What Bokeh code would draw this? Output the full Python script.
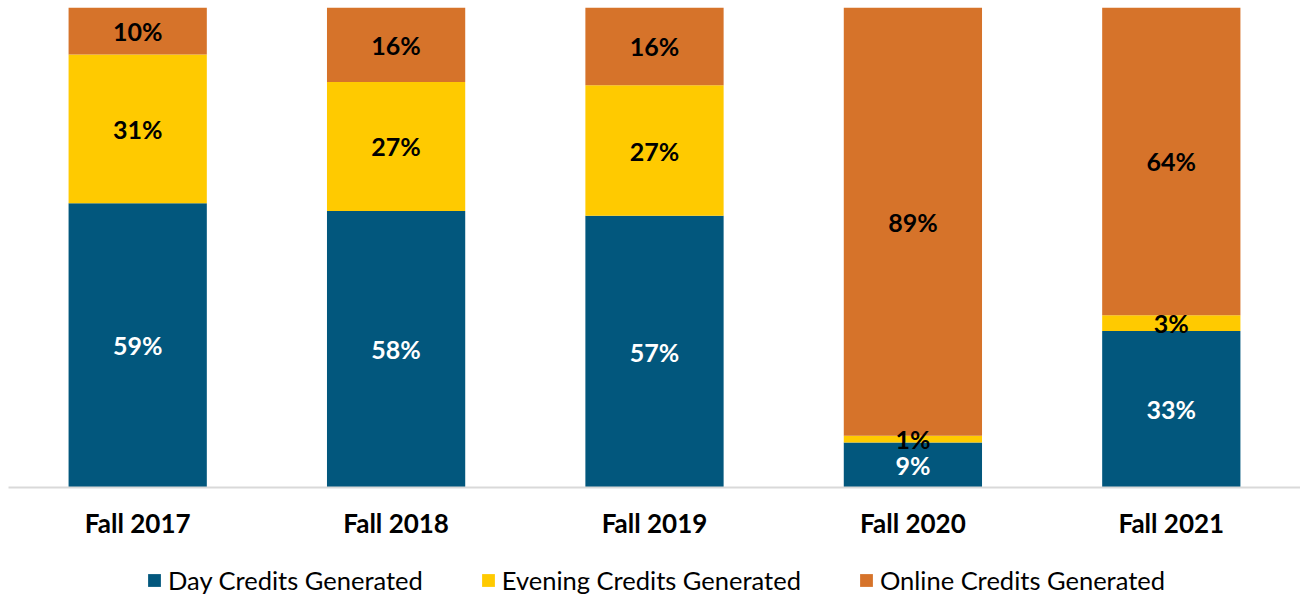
from bokeh.plotting import figure
from bokeh.layouts import column
from bokeh.models import FactorRange, Range1d, Legend, LegendItem, ColumnDataSource
from bokeh.core.properties import value
from bokeh.embed import file_html
from bokeh.resources import INLINE

categories = ["Fall 2017", "Fall 2018", "Fall 2019", "Fall 2020", "Fall 2021"]
day = [59.2, 57.6, 56.6, 9.4, 32.6]
evening = [31.0, 26.9, 27.2, 1.4, 3.3]
online = [9.8, 15.5, 16.2, 89.2, 64.1]
series_names = ["Day Credits Generated", "Evening Credits Generated", "Online Credits Generated"]
colors = ["#02577D", "#FFCA00", "#D6732A"]
label_colors = ["white", "black", "black"]

FONT = "Lato"

src = ColumnDataSource(dict(cat=categories, day=day, evening=evening, online=online))

main = figure(x_range=FactorRange(*categories, range_padding=0), y_range=Range1d(0, 100),
              width=1300, height=554, output_backend="svg", toolbar_location=None,
              min_border_left=8, min_border_right=0, min_border_top=7, min_border_bottom=67)
main.outline_line_color = None
main.xgrid.visible = False
main.ygrid.visible = False
main.yaxis.visible = False

main.vbar_stack(["day", "evening", "online"], x="cat", width=0.535, source=src,
                color=colors, line_color=None)

# segment labels
series = [day, evening, online]
base = [0.0] * len(categories)
for vals, lc in zip(series, label_colors):
    centers = [b + v / 2 for b, v in zip(base, vals)]
    texts = ["{:.0f}%".format(v) for v in vals]
    main.text(x=categories, y=centers, text=texts, text_align="center", text_baseline="middle",
              text_color=lc, text_font=value(FONT), text_font_style="bold", text_font_size="25px")
    base = [b + v for b, v in zip(base, vals)]

ax = main.xaxis[0]
ax.axis_line_color = "#D9D9D9"
ax.axis_line_width = 2
ax.major_tick_line_color = None
ax.minor_tick_line_color = None
ax.major_label_text_font = FONT
ax.major_label_text_font_style = "bold"
ax.major_label_text_font_size = "26px"
ax.major_label_text_color = "black"
ax.major_label_standoff = 13

# legend strip (swatch carriers sit outside the visible range)
leg = figure(width=1300, height=40, output_backend="svg", toolbar_location=None,
             x_range=Range1d(0, 1), y_range=Range1d(0, 1),
             min_border_left=0, min_border_right=0, min_border_top=0, min_border_bottom=0)
leg.outline_line_color = None
leg.axis.visible = False
leg.grid.visible = False
swatches = [leg.vbar(x=[-5], top=[-5], bottom=[-6], width=0.1, color=c, line_color=None)
            for c in colors]

legend = Legend(items=[LegendItem(label=n, renderers=[r]) for n, r in zip(series_names, swatches)],
                orientation="horizontal", location=(138, -1))
legend.label_text_font = FONT
legend.label_text_font_size = "25.5px"
legend.label_text_color = "black"
legend.glyph_width = 16
legend.glyph_height = 16
legend.label_standoff = 6
legend.spacing = 57
legend.padding = 0
legend.margin = 0
legend.border_line_color = None
legend.background_fill_alpha = 0
leg.add_layout(legend, "center")

p = column(main, leg, spacing=0)

open("out.html", "w").write(file_html(p, INLINE))
